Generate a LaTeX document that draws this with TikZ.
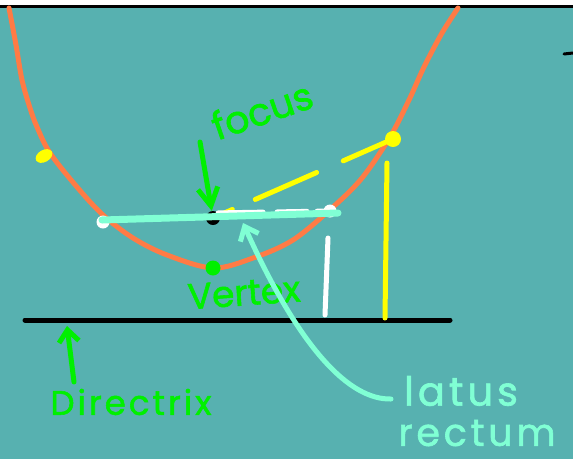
\documentclass[tikz,border=0pt]{standalone}
\usepackage{fontspec}
\newfontfamily\handfont[FakeBold=1.6]{Poppins}
\usetikzlibrary{arrows.meta}
\definecolor{board}{HTML}{57B1B0}
\definecolor{parabolaorange}{HTML}{FF7B45}
\definecolor{chalkgreen}{HTML}{00F000}
\definecolor{chalkyellow}{HTML}{FFFF00}
\definecolor{chalkaqua}{HTML}{80FFD4}

\begin{document}
\begin{tikzpicture}[
  x=1pt, y=-1pt,
  pen/.style={line width=5pt, line cap=round, line join=round},
  parabola/.style={pen, draw=parabolaorange},
  spot/.style={circle, inner sep=0pt, minimum size=14pt},
  hand/.style={inner sep=0pt, font=\handfont\fontsize{#1}{#1}\selectfont},
  greentext/.style={hand=#1, text=chalkgreen},
  aquatext/.style={hand=#1, text=chalkaqua},
  arrow/.style={pen, -{Straight Barb[length=12pt, width=20pt]}}
]
\useasboundingbox (0,0) rectangle (573,459);
\fill[white] (0,0) rectangle (573,459);
\fill[board] (0,7) rectangle (573,459);
\draw[line width=3pt] (0,6) -- (573,6);
\draw[line width=3pt, line cap=round] (564,54) -- (573,53);

\coordinate (dleft) at (25,320);
\coordinate (dright) at (450,320);
\draw[pen] (dleft) -- (dright);

\coordinate (wtop) at (328,238);
\coordinate (wbot) at (325,315);
\draw[pen, white] (wtop) -- (wbot);
\coordinate (ytop) at (387,163);
\coordinate (ybot) at (385,318);
\draw[pen, chalkyellow] (ytop) -- (ybot);

\draw[parabola] plot[smooth, tension=0.55] coordinates {(9,8) (16,45) (22,80) (30,108) (37,127) (50,153) (77,187) (103,215) (133,238) (167,255) (213,268) (253,258) (293,240) (333,207) (362,178) (390,137) (409,100) (424,67) (442,33) (458,8)};
\fill[chalkyellow, rotate around={30:(44,156)}] (44,156) ellipse (9pt and 6pt);

\node[spot, fill=black] (focus) at (213,218) {};
\node[spot, fill=chalkyellow, minimum size=16pt] (point) at (393,139) {};
\draw[pen, chalkyellow, dash pattern=on 14pt off 25pt on 67pt off 29pt on 46pt off 40pt] (focus) -- (point);

\node[spot, fill=white, minimum size=13pt] (leftend) at (103,222) {};
\node[spot, fill=white, minimum size=13pt] (rightend) at (330,211) {};
\draw[pen, white, dash pattern=on 45pt off 14pt on 30pt off 10pt] (focus.north east) -- (rightend);
\coordinate (lrleft) at (102,220);
\coordinate (lrright) at (338,213);
\draw[pen, line width=7pt, chalkaqua] (lrleft) -- (lrright);

\node[spot, fill=chalkgreen, minimum size=15pt] (vertex) at (213,268) {};

\node[greentext=38, rotate=19] (focuslabel) at (262,110) {focus};
\node[greentext=36, rotate=4] (vertexlabel) at (244,293) {Vertex};
\node[greentext=34] (directrixlabel) at (131,402) {\addfontfeatures{LetterSpace=9}Directrix};
\node[aquatext=40] (latuslabel) at (461,391) {\addfontfeatures{LetterSpace=10}latus};
\node[aquatext=38] (rectumlabel) at (477,433) {\addfontfeatures{LetterSpace=10}rectum};

\coordinate (focustail) at (200,142);
\draw[arrow, chalkgreen, -{Straight Barb[length=18pt, width=20pt]}] (focustail) -- (focus);
\coordinate (dirtail) at (74,382);
\coordinate (dirtip) at (67,326);
\draw[arrow, chalkgreen] (dirtail) -- (dirtip);
\coordinate (lrtail) at (391,399);
\coordinate (lrtip) at (243,223);
\draw[arrow, chalkaqua] (lrtail) .. controls (350,400) and (300,350) .. (lrtip);
\end{tikzpicture}
\end{document}
